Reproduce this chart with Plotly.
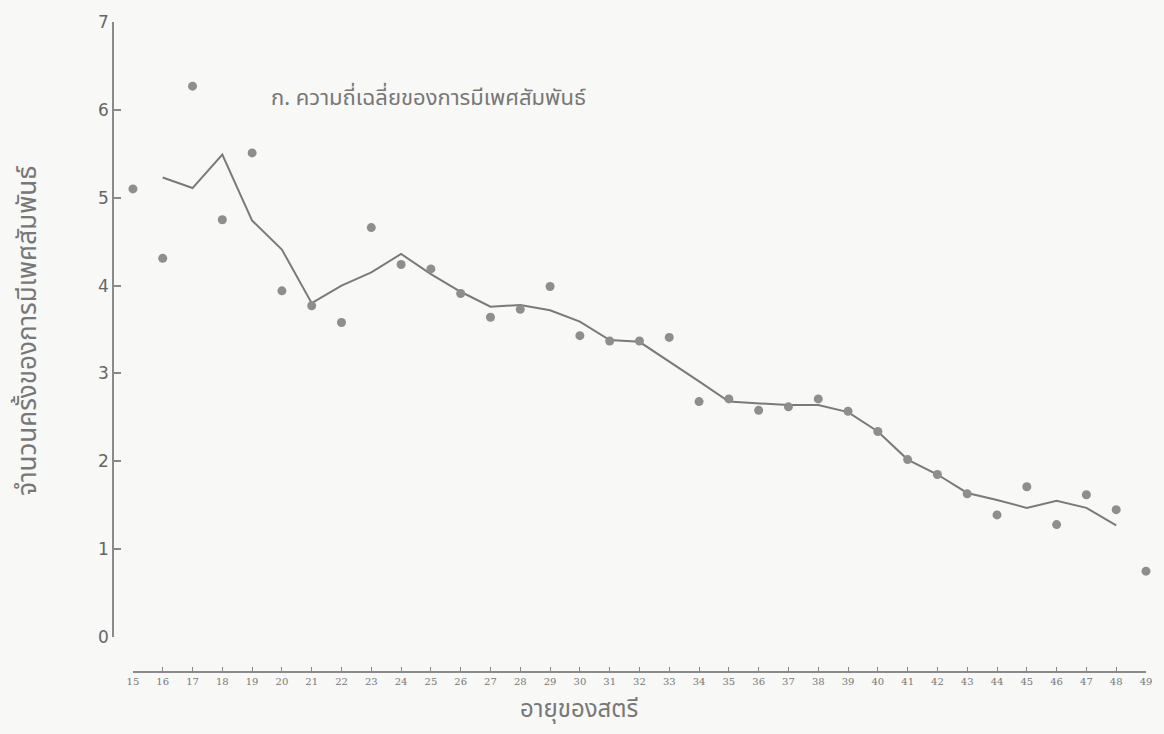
import plotly.graph_objects as go

ages = list(range(15, 50))
tick_labels = [str(a) for a in ages]
point_values = [5.10, 4.31, 6.27, 4.75, 5.51, 3.94, 3.77, 3.58, 4.66, 4.24,
                4.19, 3.91, 3.64, 3.73, 3.99, 3.43, 3.37, 3.37, 3.41, 2.68,
                2.71, 2.58, 2.62, 2.71, 2.57, 2.34, 2.02, 1.85, 1.63, 1.39,
                1.71, 1.28, 1.62, 1.45, 0.75]
line_ages = list(range(16, 49))
line_values = [5.23, 5.11, 5.49, 4.74, 4.41, 3.80, 4.00, 4.15, 4.36, 4.13,
               3.93, 3.76, 3.78, 3.72, 3.59, 3.38, 3.36, 3.14, 2.91, 2.68,
               2.66, 2.64, 2.64, 2.56, 2.34, 2.02, 1.85, 1.64, 1.56, 1.47,
               1.55, 1.47, 1.27]

title_text = "ก. ความถี่เฉลี่ยของการมีเพศสัมพันธ์"
x_title = "อายุของสตรี"
y_title = "จำนวนครั้งของการมีเพศสัมพันธ์"

W, H = 1164, 734
L, R, T, B = 113, 14, 21, 62
pw, ph = W - L - R, H - T - B

def px_x(p):
    return (p - L) / pw

def px_y(p):
    return (H - B - p) / ph

fig = go.Figure()
fig.add_trace(go.Scatter(
    x=line_ages, y=line_values, mode="lines",
    line=dict(color="#7a7a7a", width=2),
    showlegend=False, hoverinfo="skip"))
fig.add_trace(go.Scatter(
    x=ages, y=point_values, mode="markers",
    marker=dict(color="#8e8e8e", size=9, line=dict(width=0)),
    showlegend=False, cliponaxis=False))

thai_font = "Noto Sans Thai, Noto Sans, DejaVu Sans, sans-serif"

fig.update_layout(
    width=W, height=H,
    margin=dict(l=L, r=R, t=T, b=B),
    paper_bgcolor="#f8f8f6", plot_bgcolor="#f8f8f6",
    xaxis=dict(
        range=[15, 49], domain=[px_x(133), 1],
        tickvals=ages, ticktext=tick_labels,
        ticks="inside", ticklen=4, tickcolor="#888", tickwidth=1,
        showline=True, linecolor="#8a8a8a", linewidth=1.5,
        showgrid=False, zeroline=False,
        tickfont=dict(size=10, color="#777", family="DejaVu Serif, serif"),
        anchor="free", position=0,
    ),
    yaxis=dict(
        range=[0, 7], domain=[px_y(637), 1],
        tickvals=[0, 1, 2, 3, 4, 5, 6, 7],
        ticks="inside", ticklen=7, tickcolor="#888", tickwidth=1.5,
        showline=True, linecolor="#8a8a8a", linewidth=1.5,
        showgrid=False, zeroline=False,
        tickfont=dict(size=17, color="#666", family="DejaVu Sans, sans-serif"),
        anchor="free", position=0,
    ),
    annotations=[
        dict(text=title_text, x=px_x(430), y=px_y(98), xref="paper", yref="paper",
             xanchor="center", yanchor="middle",
             showarrow=False, font=dict(size=22, color="#777", family=thai_font)),
        dict(text=x_title, x=px_x(581), y=px_y(710), xref="paper", yref="paper",
             xanchor="center", yanchor="middle",
             showarrow=False, font=dict(size=24, color="#777", family=thai_font)),
        dict(text=y_title, x=px_x(27), y=px_y(330), xref="paper", yref="paper",
             xanchor="center", yanchor="middle",
             showarrow=False, textangle=-90,
             font=dict(size=26, color="#777", family=thai_font)),
    ],
)

fig.write_html("out.html", config={"displayModeBar": False})
with open("out.html", encoding="utf-8") as f:
    html = f.read()
html = html.replace("<head>", "<head><style>html,body{margin:0;padding:0;background:#f8f8f6;}</style>", 1)
with open("out.html", "w", encoding="utf-8") as f:
    f.write(html)
